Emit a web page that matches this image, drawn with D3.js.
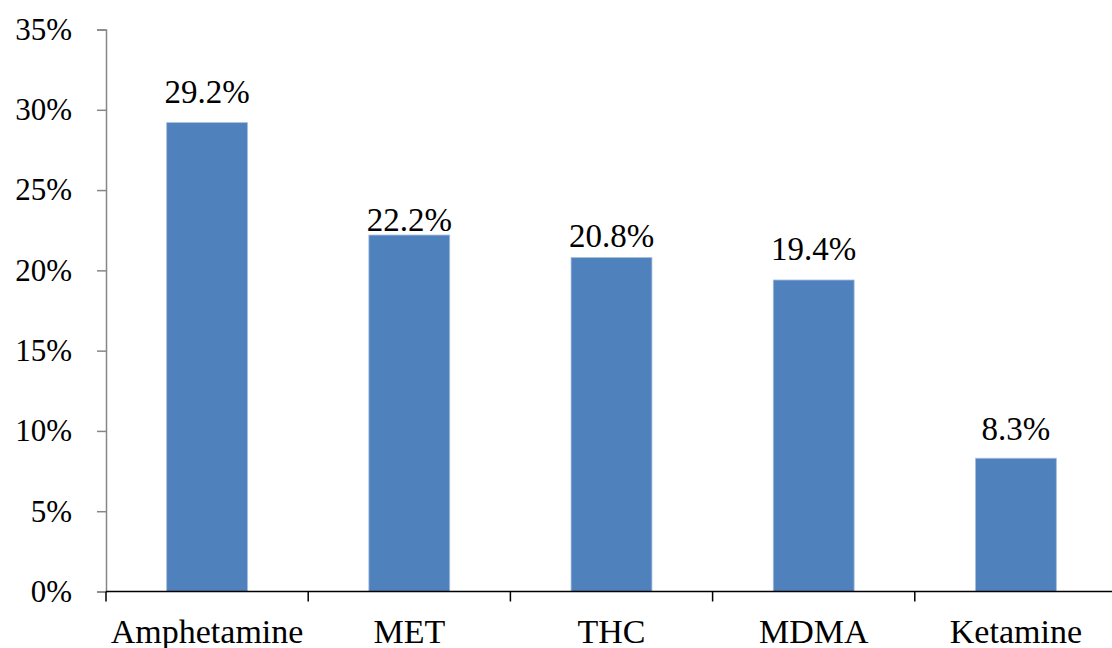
<!DOCTYPE html>
<html>
<head>
<meta charset="utf-8">
<script src="https://cdn.jsdelivr.net/npm/d3@7"></script>
<style>
  html, body { margin: 0; padding: 0; background: #fff; }
  svg { display: block; }
</style>
</head>
<body>
<script>
// Share of positive samples by substance
const categories = ["Amphetamine", "MET", "THC", "MDMA", "Ketamine"];
const values = [29.2, 22.2, 20.8, 19.4, 8.3];
const valueLabels = ["29.2%", "22.2%", "20.8%", "19.4%", "8.3%"];
const yTicks = [0, 5, 10, 15, 20, 25, 30, 35];

const W = 1112, H = 648;
const serif = "'Liberation Serif'";
// gap between each value label's baseline and its bar top
const labelGap = [20, 4, 11, 20, 18];

const svg = d3.select("body").append("svg")
  .attr("width", W).attr("height", H);

const x = d3.scaleBand()
  .domain(categories)
  .range([106, 1117])
  .paddingInner(0.6)
  .paddingOuter(0.3);

const y = d3.scaleLinear().domain([0, 35]).range([591.5, 29.5]);

// bars
svg.append("g").selectAll("rect")
  .data(values)
  .join("rect")
  .attr("x", (d, i) => x(categories[i]))
  .attr("width", x.bandwidth())
  .attr("y", d => y(d))
  .attr("height", d => y(0) - y(d))
  .attr("fill", "#4F81BD")
  .attr("stroke", "#A7C0DE")
  .attr("stroke-width", 0.8);

// value labels
svg.append("g").selectAll("text")
  .data(values)
  .join("text")
  .attr("x", (d, i) => x(categories[i]) + x.bandwidth() / 2)
  .attr("y", (d, i) => y(d) - labelGap[i])
  .attr("text-anchor", "middle")
  .style("font-family", serif)
  .style("font-size", "33px")
  .style("fill", "#000")
  .text((d, i) => valueLabels[i]);

// y axis
const yAxis = svg.append("g")
  .attr("transform", "translate(106,0)")
  .call(d3.axisLeft(y).tickValues(yTicks).tickFormat(d => d + "%").tickSize(9).tickPadding(25));
yAxis.select(".domain").attr("stroke", "#868686").attr("stroke-width", 1.5);
yAxis.selectAll(".tick line").attr("stroke", "#868686").attr("stroke-width", 1.5);
yAxis.selectAll(".tick text")
  .style("font-family", serif)
  .style("font-size", "31px")
  .style("fill", "#000");

// x axis: ticks at the band boundaries
const bandEdges = categories.map((c, i) => 106 + i * x.step());
const xg = svg.append("g");
xg.append("line")
  .attr("x1", 106).attr("x2", 1117)
  .attr("y1", y(0)).attr("y2", y(0))
  .attr("stroke", "#000").attr("stroke-width", 1.5);
xg.selectAll("line.tk")
  .data(bandEdges)
  .join("line")
  .attr("class", "tk")
  .attr("x1", d => d).attr("x2", d => d)
  .attr("y1", y(0)).attr("y2", y(0) + 10)
  .attr("stroke", "#000").attr("stroke-width", 1.5);
xg.selectAll("text")
  .data(categories)
  .join("text")
  .attr("x", d => x(d) + x.bandwidth() / 2)
  .attr("y", 643)
  .attr("text-anchor", "middle")
  .style("font-family", serif)
  .style("font-size", "34px")
  .style("fill", "#000")
  .text(d => d);
</script>
</body>
</html>
